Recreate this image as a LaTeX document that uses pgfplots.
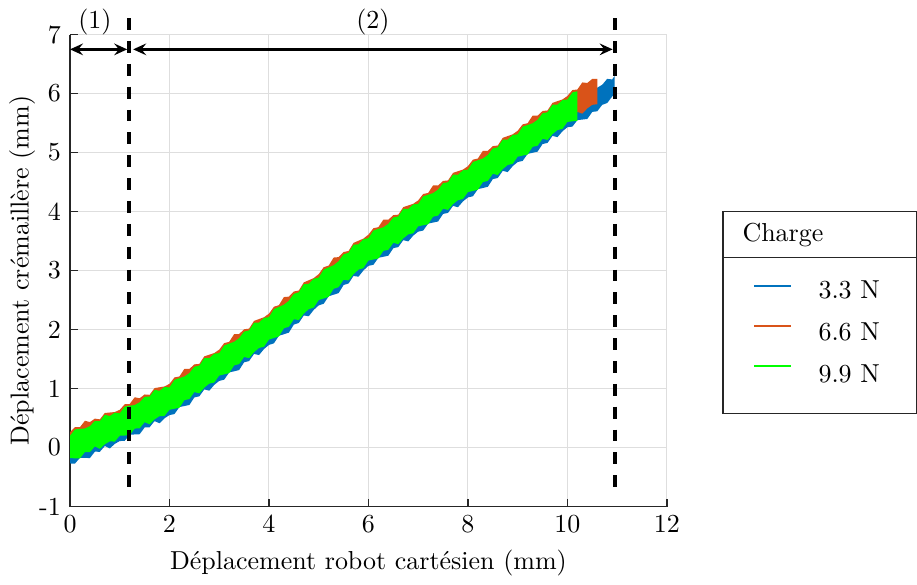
\documentclass[border=0pt]{standalone}
\usepackage{pgfplots}
\usepackage{pgfplotstable}
\pgfplotsset{compat=1.18}
\usepgfplotslibrary{fillbetween}
\usetikzlibrary{arrows.meta}
\definecolor{mblue}{rgb}{0,0.447,0.741}
\definecolor{morange}{rgb}{0.85,0.325,0.098}
\definecolor{mgreen}{rgb}{0,1,0}
\definecolor{axgray}{rgb}{0.15,0.15,0.15}

\pgfplotstableread{
x lo hi
0.0 -0.270 0.180
0.1 -0.272 0.158
0.2 -0.174 0.216
0.3 -0.176 0.204
0.4 -0.178 0.312
0.5 -0.070 0.320
0.6 -0.072 0.328
0.7 0.026 0.366
0.8 -0.016 0.454
0.9 0.062 0.452
1.0 0.110 0.560
1.1 0.114 0.544
1.2 0.218 0.608
1.3 0.222 0.602
1.4 0.226 0.716
1.5 0.340 0.730
1.6 0.344 0.744
1.7 0.448 0.788
1.8 0.412 0.882
1.9 0.496 0.886
2.0 0.550 1.000
2.1 0.568 0.998
2.2 0.686 1.076
2.3 0.704 1.084
2.4 0.722 1.212
2.5 0.850 1.240
2.6 0.868 1.268
2.7 0.986 1.326
2.8 0.964 1.434
2.9 1.062 1.452
3.0 1.130 1.580
3.1 1.151 1.581
3.2 1.272 1.662
3.3 1.293 1.673
3.4 1.314 1.804
3.5 1.445 1.835
3.6 1.466 1.866
3.7 1.587 1.927
3.8 1.568 2.038
3.9 1.669 2.059
4.0 1.740 2.190
4.1 1.767 2.197
4.2 1.894 2.284
4.3 1.921 2.301
4.4 1.948 2.438
4.5 2.085 2.475
4.6 2.112 2.512
4.7 2.239 2.579
4.8 2.226 2.696
4.9 2.333 2.723
5.0 2.410 2.860
5.1 2.437 2.867
5.2 2.564 2.954
5.3 2.591 2.971
5.4 2.618 3.108
5.5 2.755 3.145
5.6 2.782 3.182
5.7 2.909 3.249
5.8 2.896 3.366
5.9 3.003 3.393
6.0 3.080 3.530
6.1 3.098 3.528
6.2 3.216 3.606
6.3 3.234 3.614
6.4 3.252 3.742
6.5 3.380 3.770
6.6 3.398 3.798
6.7 3.516 3.856
6.8 3.494 3.964
6.9 3.592 3.982
7.0 3.660 4.110
7.1 3.678 4.108
7.2 3.796 4.186
7.3 3.814 4.194
7.4 3.832 4.322
7.5 3.960 4.350
7.6 3.978 4.378
7.7 4.096 4.436
7.8 4.074 4.544
7.9 4.172 4.562
8.0 4.240 4.690
8.1 4.260 4.690
8.2 4.380 4.770
8.3 4.400 4.780
8.4 4.420 4.910
8.5 4.550 4.940
8.6 4.570 4.970
8.7 4.690 5.030
8.8 4.670 5.140
8.9 4.770 5.160
9.0 4.840 5.290
9.1 4.859 5.289
9.2 4.978 5.368
9.3 4.997 5.377
9.4 5.016 5.506
9.5 5.145 5.535
9.6 5.164 5.564
9.7 5.283 5.623
9.8 5.262 5.732
9.9 5.361 5.751
10.0 5.430 5.880
10.1 5.440 5.870
10.2 5.550 5.940
10.3 5.560 5.940
10.4 5.570 6.060
10.5 5.690 6.080
10.6 5.700 6.100
10.7 5.810 6.150
10.8 5.840 6.250
10.9 5.950 6.240
10.95 6.000 6.300
}\tblue

\pgfplotstableread{
x lo hi
0.0 -0.130 0.260
0.1 -0.132 0.348
0.2 -0.034 0.346
0.3 -0.076 0.454
0.4 0.002 0.432
0.5 0.050 0.490
0.6 0.048 0.478
0.7 0.146 0.586
0.8 0.144 0.594
0.9 0.142 0.602
1.0 0.250 0.640
1.1 0.254 0.734
1.2 0.358 0.738
1.3 0.322 0.852
1.4 0.406 0.836
1.5 0.460 0.900
1.6 0.464 0.894
1.7 0.568 1.008
1.8 0.572 1.022
1.9 0.576 1.036
2.0 0.690 1.080
2.1 0.708 1.188
2.2 0.826 1.206
2.3 0.804 1.334
2.4 0.902 1.332
2.5 0.970 1.410
2.6 0.988 1.418
2.7 1.106 1.546
2.8 1.124 1.574
2.9 1.142 1.602
3.0 1.270 1.660
3.1 1.291 1.771
3.2 1.412 1.792
3.3 1.393 1.923
3.4 1.494 1.924
3.5 1.565 2.005
3.6 1.586 2.016
3.7 1.707 2.147
3.8 1.728 2.178
3.9 1.749 2.209
4.0 1.880 2.270
4.1 1.907 2.387
4.2 2.034 2.414
4.3 2.021 2.551
4.4 2.128 2.558
4.5 2.205 2.645
4.6 2.232 2.662
4.7 2.359 2.799
4.8 2.386 2.836
4.9 2.413 2.873
5.0 2.550 2.940
5.1 2.577 3.057
5.2 2.704 3.084
5.3 2.691 3.221
5.4 2.798 3.228
5.5 2.875 3.315
5.6 2.902 3.332
5.7 3.029 3.469
5.8 3.056 3.506
5.9 3.083 3.543
6.0 3.220 3.610
6.1 3.238 3.718
6.2 3.356 3.736
6.3 3.334 3.864
6.4 3.432 3.862
6.5 3.500 3.940
6.6 3.518 3.948
6.7 3.636 4.076
6.8 3.654 4.104
6.9 3.672 4.132
7.0 3.800 4.190
7.1 3.818 4.298
7.2 3.936 4.316
7.3 3.914 4.444
7.4 4.012 4.442
7.5 4.080 4.520
7.6 4.098 4.528
7.7 4.216 4.656
7.8 4.234 4.684
7.9 4.252 4.712
8.0 4.380 4.770
8.1 4.400 4.880
8.2 4.520 4.900
8.3 4.500 5.030
8.4 4.600 5.030
8.5 4.670 5.110
8.6 4.690 5.120
8.7 4.810 5.250
8.8 4.830 5.280
8.9 4.850 5.310
9.0 4.980 5.370
9.1 4.999 5.479
9.2 5.118 5.498
9.3 5.097 5.627
9.4 5.196 5.626
9.5 5.265 5.705
9.6 5.284 5.714
9.7 5.403 5.843
9.8 5.422 5.872
9.9 5.441 5.901
10.0 5.570 5.960
10.1 5.580 6.060
10.2 5.690 6.070
10.3 5.660 6.190
10.4 5.750 6.180
10.5 5.810 6.250
10.6 5.820 6.250
}\torange

\pgfplotstableread{
x lo hi
0.0 -0.180 0.200
0.1 -0.182 0.308
0.2 -0.184 0.316
0.3 -0.076 0.324
0.4 -0.078 0.362
0.5 0.020 0.450
0.6 -0.022 0.448
0.7 0.056 0.556
0.8 0.104 0.534
0.9 0.102 0.592
1.0 0.200 0.580
1.1 0.204 0.694
1.2 0.208 0.708
1.3 0.322 0.722
1.4 0.326 0.766
1.5 0.430 0.860
1.6 0.394 0.864
1.7 0.478 0.978
1.8 0.532 0.962
1.9 0.536 1.026
2.0 0.640 1.020
2.1 0.658 1.148
2.2 0.676 1.176
2.3 0.804 1.204
2.4 0.822 1.262
2.5 0.940 1.370
2.6 0.918 1.388
2.7 1.016 1.516
2.8 1.084 1.514
2.9 1.102 1.592
3.0 1.220 1.600
3.1 1.241 1.731
3.2 1.262 1.762
3.3 1.393 1.793
3.4 1.414 1.854
3.5 1.535 1.965
3.6 1.516 1.986
3.7 1.617 2.117
3.8 1.688 2.118
3.9 1.709 2.199
4.0 1.830 2.210
4.1 1.857 2.347
4.2 1.884 2.384
4.3 2.021 2.421
4.4 2.048 2.488
4.5 2.175 2.605
4.6 2.162 2.632
4.7 2.269 2.769
4.8 2.346 2.776
4.9 2.373 2.863
5.0 2.500 2.880
5.1 2.527 3.017
5.2 2.554 3.054
5.3 2.691 3.091
5.4 2.718 3.158
5.5 2.845 3.275
5.6 2.832 3.302
5.7 2.939 3.439
5.8 3.016 3.446
5.9 3.043 3.533
6.0 3.170 3.550
6.1 3.188 3.678
6.2 3.206 3.706
6.3 3.334 3.734
6.4 3.352 3.792
6.5 3.470 3.900
6.6 3.448 3.918
6.7 3.546 4.046
6.8 3.614 4.044
6.9 3.632 4.122
7.0 3.750 4.130
7.1 3.768 4.258
7.2 3.786 4.286
7.3 3.914 4.314
7.4 3.932 4.372
7.5 4.050 4.480
7.6 4.028 4.498
7.7 4.126 4.626
7.8 4.194 4.624
7.9 4.212 4.702
8.0 4.330 4.710
8.1 4.350 4.840
8.2 4.370 4.870
8.3 4.500 4.900
8.4 4.520 4.960
8.5 4.640 5.070
8.6 4.620 5.090
8.7 4.720 5.220
8.8 4.790 5.220
8.9 4.810 5.300
9.0 4.930 5.310
9.1 4.949 5.439
9.2 4.968 5.468
9.3 5.097 5.497
9.4 5.116 5.556
9.5 5.235 5.665
9.6 5.214 5.684
9.7 5.313 5.813
9.8 5.382 5.812
9.9 5.401 5.891
10.0 5.520 5.900
10.1 5.530 6.020
10.2 5.540 6.040
}\tgreen

\begin{document}
\begin{tikzpicture}
\begin{axis}[
  at={(0,0)}, anchor=south west,
  scale only axis, width=229.8pt, height=181.7pt,
  xmin=0, xmax=12, ymin=-1, ymax=7,
  xtick={0,2,4,6,8,10,12},
  ytick={-1,0,1,2,3,4,5,6,7},
  yticklabels={-1,0,1,2,3,4,5,6,7},
  axis x line*=bottom, axis y line*=left,
  axis line style={axgray, line width=0.5pt},
  tick align=inside, major tick length=3pt,
  tick style={axgray, line width=0.5pt},
  grid=major, grid style={line width=0.4pt, color=black!13},
  xlabel={D\'eplacement robot cart\'esien (mm)},
  ylabel={D\'eplacement cr\'emaill\`ere (mm)},
  xlabel style={at={(axis description cs:0.5,-0.12)}, anchor=center},
  ylabel style={at={(axis description cs:-0.08,0.5)}, anchor=center},
  clip=false,
]
\addplot[draw=none, name path=bl, forget plot] table[x=x,y=lo]{\tblue};
\addplot[draw=none, name path=bh, forget plot] table[x=x,y=hi]{\tblue};
\addplot[fill=mblue, draw=none, forget plot] fill between[of=bl and bh];
\addplot[draw=none, name path=ol, forget plot] table[x=x,y=lo]{\torange};
\addplot[draw=none, name path=oh, forget plot] table[x=x,y=hi]{\torange};
\addplot[fill=morange, draw=none, forget plot] fill between[of=ol and oh];
\addplot[draw=none, name path=gl, forget plot] table[x=x,y=lo]{\tgreen};
\addplot[draw=none, name path=gh, forget plot] table[x=x,y=hi]{\tgreen};
\addplot[fill=mgreen, draw=none, forget plot] fill between[of=gl and gh];

\draw[black, line width=1.5pt, dash pattern=on 4.6pt off 4.2pt] (axis cs:1.18,7.28) -- (axis cs:1.18,-0.83);
\draw[black, line width=1.5pt, dash pattern=on 4.6pt off 4.2pt] (axis cs:10.96,7.28) -- (axis cs:10.96,-0.83);
\draw[line width=1.2pt, {Stealth[length=5pt,width=4.5pt,inset=1.8pt]}-{Stealth[length=5pt,width=4.5pt,inset=1.8pt]}] (axis cs:0,6.75) -- (axis cs:1.15,6.75);
\draw[line width=1.2pt, {Stealth[length=5pt,width=4.5pt,inset=1.8pt]}-{Stealth[length=5pt,width=4.5pt,inset=1.8pt]}] (axis cs:1.27,6.75) -- (axis cs:10.91,6.75);
\node at (axis cs:0.5,7.22) {(1)};
\node at (axis cs:6.09,7.22) {(2)};
\end{axis}
\begin{scope}[x=0.385pt, y=-0.385pt, shift={(-26.95pt,194.425pt)}]
\draw[draw=axgray, line width=0.5pt] (723,210) rectangle (916.3,412);
\draw[draw=axgray, line width=0.5pt] (723,256) -- (916.3,256);
\node[anchor=base west, inner sep=0pt] at (742,240) {Charge};
\fill[mblue] (754,283) rectangle (791,285.2);
\node[anchor=base west, inner sep=0pt] at (818,297) {3.3 N};
\fill[morange] (754,323) rectangle (791,325.2);
\node[anchor=base west, inner sep=0pt] at (818,339) {6.6 N};
\fill[mgreen] (754,363) rectangle (791,365.2);
\node[anchor=base west, inner sep=0pt] at (818,381) {9.9 N};
\path (0,0) rectangle (917,580);
\end{scope}
\end{tikzpicture}
\end{document}
